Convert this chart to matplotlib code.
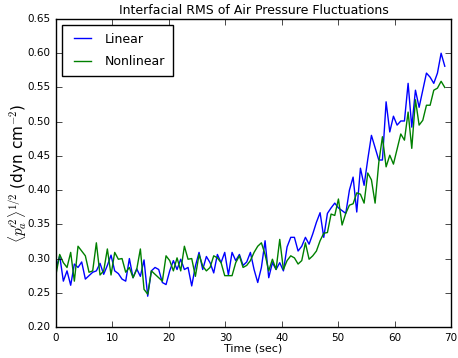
import numpy as np
import matplotlib
matplotlib.use('Agg')
import matplotlib.pyplot as plt

# sample spacing of the record (sec)
dt = 0.65

linear = [0.285, 0.304, 0.267, 0.282, 0.261, 0.292, 0.287, 0.295, 0.270, 0.275,
          0.280, 0.282, 0.293, 0.277, 0.290, 0.305, 0.282, 0.278, 0.270, 0.267,
          0.300, 0.272, 0.285, 0.274, 0.298, 0.245, 0.282, 0.287, 0.284, 0.265,
          0.262, 0.282, 0.297, 0.284, 0.299, 0.284, 0.287, 0.260, 0.289, 0.309,
          0.284, 0.303, 0.294, 0.279, 0.306, 0.294, 0.309, 0.276, 0.309, 0.297,
          0.306, 0.290, 0.295, 0.309, 0.284, 0.265, 0.287, 0.326, 0.272, 0.294,
          0.284, 0.294, 0.282, 0.317, 0.331, 0.331, 0.311, 0.318, 0.331, 0.321,
          0.336, 0.353, 0.367, 0.331, 0.366, 0.374, 0.381, 0.374, 0.370, 0.366,
          0.400, 0.419, 0.368, 0.432, 0.407, 0.445, 0.480, 0.462, 0.444, 0.444,
          0.529, 0.485, 0.508, 0.495, 0.501, 0.501, 0.556, 0.492, 0.546, 0.521,
          0.546, 0.571, 0.565, 0.556, 0.571, 0.600, 0.581]

nonlinear = [0.277, 0.306, 0.294, 0.287, 0.309, 0.267, 0.318, 0.311, 0.304, 0.280,
             0.282, 0.323, 0.276, 0.282, 0.314, 0.276, 0.309, 0.299, 0.300, 0.280,
             0.287, 0.272, 0.284, 0.314, 0.255, 0.248, 0.282, 0.277, 0.272, 0.267,
             0.304, 0.297, 0.282, 0.301, 0.282, 0.318, 0.299, 0.300, 0.274, 0.306,
             0.289, 0.282, 0.287, 0.304, 0.301, 0.294, 0.275, 0.275, 0.275, 0.294,
             0.304, 0.287, 0.290, 0.297, 0.309, 0.318, 0.323, 0.306, 0.282, 0.299,
             0.284, 0.328, 0.284, 0.297, 0.304, 0.301, 0.292, 0.297, 0.323, 0.299,
             0.304, 0.311, 0.326, 0.337, 0.338, 0.365, 0.363, 0.387, 0.349, 0.366,
             0.378, 0.380, 0.396, 0.394, 0.381, 0.425, 0.415, 0.381, 0.440, 0.478,
             0.434, 0.451, 0.438, 0.460, 0.482, 0.473, 0.514, 0.461, 0.532, 0.495,
             0.502, 0.524, 0.524, 0.546, 0.549, 0.559, 0.550]

time = np.arange(len(linear)) * dt

plt.style.use('classic')
plt.rcParams['font.size'] = 8

fig = plt.figure(figsize=(4.58, 3.58), dpi=100)
ax = fig.add_axes([0.1223, 0.0866, 0.8624, 0.8603])

ax.plot(time, linear, 'b-', label='Linear')
ax.plot(time, nonlinear, 'g-', label='Nonlinear')

ax.set_xlim(0, 70)
ax.set_ylim(0.20, 0.65)
ax.set_yticks(np.arange(0.20, 0.651, 0.05))
ax.tick_params(labelsize=7.5)
ax.set_xlabel('Time (sec)', fontsize=8, labelpad=1)
ax.set_ylabel(r'$\langle p_a^{\prime 2}\rangle^{1/2}$ (dyn cm$^{-2}$)', fontsize=11, labelpad=-1)
ax.set_title('Interfacial RMS of Air Pressure Fluctuations', fontsize=9, y=0.995)
ax.legend(loc='upper left', fontsize=9, labelspacing=0.75, borderpad=0.6)

fig.savefig('out.png', dpi=100)
